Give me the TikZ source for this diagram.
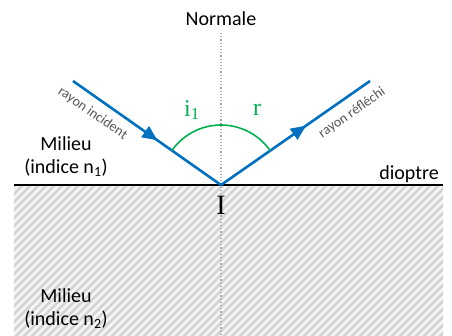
\documentclass[tikz,border=0pt]{standalone}
\usepackage{fontspec}
\setmainfont{Carlito}
\newfontfamily\serifface{Liberation Serif}
\usetikzlibrary{arrows.meta,decorations.markings,calc}
\definecolor{rayblue}{RGB}{0,112,192}
\definecolor{anggreen}{RGB}{0,176,80}
\definecolor{hatchbg}{RGB}{246,246,246}
\definecolor{hatchfg}{RGB}{212,212,212}
\definecolor{lblgray}{RGB}{85,85,85}
\begin{document}
\begin{tikzpicture}[x=1pt,y=-1pt,
  ray/.style={draw=rayblue,line width=2.6pt,
    postaction={decorate,decoration={markings,
      mark=at position 0.57 with {\arrow{Triangle[length=15pt,width=13pt]}}}}},
  lbl/.style={font=\fontsize{20}{22}\selectfont,text=black,inner sep=0pt},
  small/.style={font=\fontsize{14}{16}\selectfont,text=lblgray,inner sep=0pt},
  ang/.style={font=\serifface\fontsize{24}{26}\selectfont,text=anggreen,inner sep=0pt}]
\useasboundingbox (0,0) rectangle (452,336);
% hatched medium
\begin{scope}
  \clip (14,186) rectangle (443,336);
  \fill[hatchbg] (14,186) rectangle (443,336);
  \foreach \k in {0,8,...,600}{
    \draw[hatchfg,line width=2.8pt] (\k-170,346) -- (\k,176);
  }
\end{scope}
% normal
\coordinate (I) at (221,185);
\coordinate (ntop) at (221,33);
\coordinate (nbot) at (221,336);
\draw[gray!70,line width=1.2pt,dash pattern=on 1.2pt off 2pt] (ntop) -- (nbot);
% dioptre
\coordinate (dl) at (14,185);
\coordinate (dr) at (443,185);
\draw[black,line width=2.6pt] (dl) -- (dr);
% rays
\coordinate (A) at (73,81);
\coordinate (B) at (370,81);
\draw[ray] (A) -- (I);
\draw[ray] (I) -- (B);
% angle arc
\draw[anggreen,line width=1.6pt] ($(I)+(215:60)$) arc[start angle=215,end angle=325,radius=60];
% labels
\node[lbl] (normale) at (221,19) {Normale};
\node[lbl,align=center] (milieu1) at (66,157) {Milieu\\[1pt](indice n\textsubscript{1})};
\node[lbl,align=center] (milieu2) at (66,309) {Milieu\\[1pt](indice n\textsubscript{2})};
\node[lbl] (dioptre) at (409,174) {dioptre};
\node[font=\serifface\fontsize{28}{30}\selectfont,inner sep=0pt] (Ilbl) at (221,205) {I};
\node[ang] (i1) at (192,110) {i\textsubscript{1}};
\node[ang] (r) at (257,110) {r};
\node[small,rotate=-35] (rinc) at (92.6,113.4) {rayon incident};
\node[small,rotate=35] (rref) at (352,113) {rayon réfléchi};
\end{tikzpicture}
\end{document}
